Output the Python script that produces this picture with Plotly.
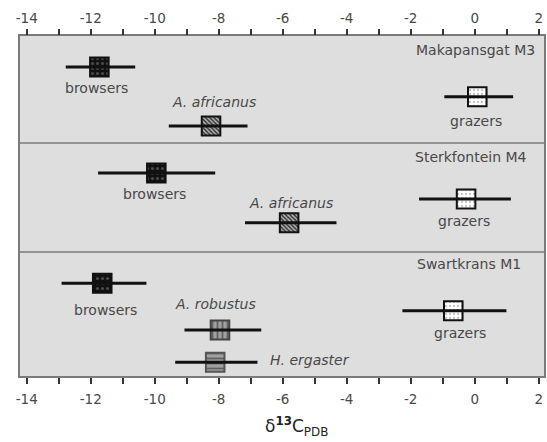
import plotly.graph_objects as go

# ---------------- data ----------------
sites = ["Makapansgat M3", "Sterkfontein M4", "Swartkrans M1"]
taxa = ["browsers", "A. africanus", "grazers",
        "browsers", "A. africanus", "grazers",
        "browsers", "A. robustus", "H. ergaster", "grazers"]
site_index = [0, 0, 0, 1, 1, 1, 2, 2, 2, 2]
means = [-11.73, -8.24, 0.08, -9.95, -5.80, -0.27, -11.64, -7.96, -8.11, -0.67]
lows = [-12.78, -9.56, -0.95, -11.77, -7.18, -1.74, -12.91, -9.07, -9.36, -2.26]
highs = [-10.61, -7.10, 1.20, -8.11, -4.32, 1.13, -10.26, -6.67, -6.79, 0.99]
major_ticks = list(range(-14, 3, 2))
tick_labels = [str(v) for v in major_ticks]
minor_ticks = list(range(-13, 2, 2))
axis_title = "δ<sup><b>13</b></sup>C<sub>PDB</sub>"

# ---------------- layout / positions ----------------
box_rows = [31, 90, 60.7, 137, 186.7, 163, 247.3, 294, 326.3, 274.7]
label_rows = [52, 66.3, 85, 158, 166.7, 185, 274, 268.3, 324, 297]
label_x = [-11.81, -8.15, 0.05, -10.0, -5.75, -0.32, -11.53, -8.09, -6.45, -0.46]
site_rows = [14, 120.7, 228]
site_x = [1.95, 1.69, 1.5]
dividers = [107, 216]
BOX_W = 0.58   # box width in x units
BOX_H = 19     # box height in y units

FONT = "DejaVu Sans"
TXT = "#484848"

styles = {
    "browsers": dict(bg="#111111", fg="#4a4a4a", shape=".", size=5, sol=0.3, line="#111111"),
    "A. africanus": dict(bg="#3a3a3a", fg="#c0c0c0", shape="\\", size=3, sol=0.45, line="#111111"),
    "grazers": dict(bg="#ffffff", fg="#c4c4c4", shape=".", size=4, sol=0.25, line="#111111"),
    "A. robustus": dict(bg="#a0a0a0", fg="#606060", shape="|", size=5, sol=0.35, line="#444444"),
    "H. ergaster": dict(bg="#a0a0a0", fg="#606060", shape="-", size=5, sol=0.35, line="#555555"),
}

fig = go.Figure()

# whiskers
wx, wy = [], []
for lo, hi, r in zip(lows, highs, box_rows):
    wx += [lo, hi, None]
    wy += [r, r, None]
fig.add_trace(go.Scatter(x=wx, y=wy, mode="lines",
                         line=dict(color="#111111", width=3),
                         hoverinfo="skip", showlegend=False))

# boxes
for t, m, r in zip(taxa, means, box_rows):
    s = styles[t]
    fig.add_trace(go.Bar(
        orientation="h", y=[r], x=[BOX_W], base=[m - BOX_W / 2], width=BOX_H,
        marker=dict(color=s["bg"], line=dict(color=s["line"], width=2),
                    pattern=dict(shape=s["shape"], fgcolor=s["fg"], bgcolor=s["bg"],
                                 size=s["size"], solidity=s["sol"], fillmode="replace")),
        showlegend=False, hoverinfo="skip"))

# invisible trace for top axis
fig.add_trace(go.Scatter(x=[-14, 2], y=[0, 0], xaxis="x2", mode="markers",
                         marker=dict(opacity=0), hoverinfo="skip", showlegend=False))

# taxon labels
for t, lx, lr in zip(taxa, label_x, label_rows):
    italic = t.startswith("A.") or t.startswith("H.")
    fig.add_annotation(x=lx, y=lr, xref="x", yref="y", text=t, showarrow=False,
                       xanchor="left" if t == "H. ergaster" else "center",
                       yanchor="middle",
                       font=dict(family=FONT, size=14, color=TXT,
                                 style="italic" if italic else "normal"))

# site labels
for s, sx, sr in zip(sites, site_x, site_rows):
    fig.add_annotation(x=sx, y=sr, xref="x", yref="y", text=s, showarrow=False,
                       xanchor="right", yanchor="middle",
                       font=dict(family=FONT, size=14, color=TXT))

# dividers
for d in dividers:
    fig.add_shape(type="line", xref="paper", x0=0, x1=1, yref="y", y0=d, y1=d,
                  line=dict(color="#7a7a7a", width=1.5))

# axis title
fig.add_annotation(xref="paper", yref="paper", x=0.527, y=-0.15, text=axis_title,
                   showarrow=False, xanchor="center", yanchor="middle",
                   font=dict(family=FONT, size=17, color="#222222"))

xr = [-14.21, 2.165]
axis_common = dict(range=xr, tickmode="array", tickvals=major_ticks, ticktext=tick_labels,
                   ticks="outside", ticklen=6, tickwidth=1.5, tickcolor="#333333",
                   minor=dict(tickmode="array", tickvals=minor_ticks, ticks="outside",
                              ticklen=6, tickwidth=1.5, tickcolor="#333333", showgrid=False),
                   showgrid=False, zeroline=False,
                   tickfont=dict(family=FONT, size=13.5, color=TXT))

fig.update_layout(
    width=547, height=442,
    margin=dict(l=20, r=1, t=36, b=66),
    paper_bgcolor="white", plot_bgcolor="#dedede",
    barmode="overlay",
    xaxis=dict(**axis_common, side="bottom", showline=True, linecolor="#7a7a7a",
               linewidth=1.5, mirror=True, ticklabelstandoff=4),
    xaxis2=dict(**axis_common, side="top", overlaying="x", matches="x",
                showline=False, ticklabelstandoff=1),
    yaxis=dict(range=[340, 0], showticklabels=False, ticks="", showgrid=False,
               zeroline=False, showline=True, linecolor="#7a7a7a", linewidth=1.5,
               mirror=True),
)

fig.write_html("out.html")
